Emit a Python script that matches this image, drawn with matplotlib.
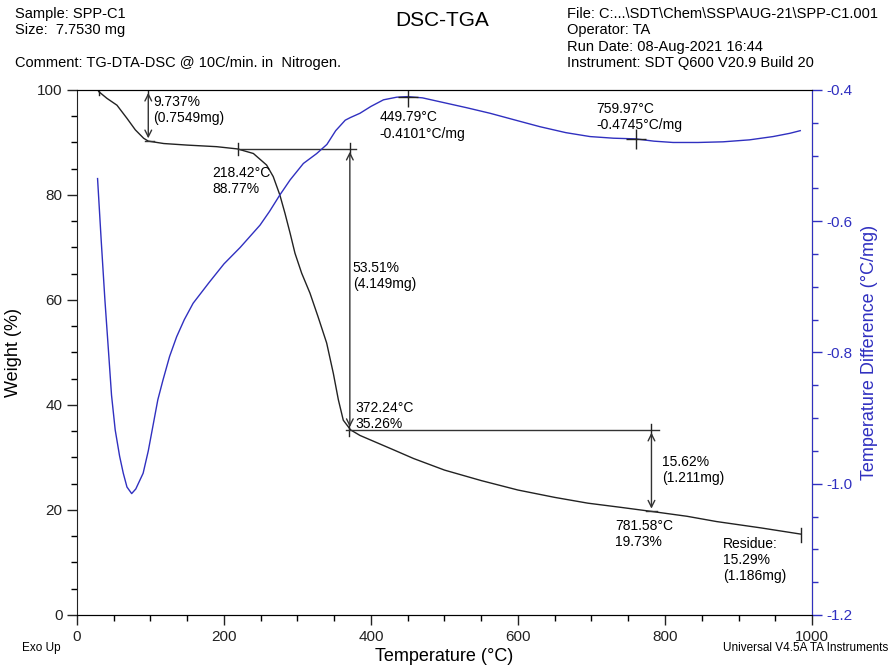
import matplotlib.pyplot as plt
import numpy as np
from matplotlib.ticker import MultipleLocator

plt.rcParams['font.family'] = ['Liberation Sans', 'DejaVu Sans']

# --- DATA ---

# TGA weight curve
tga_temp = [29.5, 40.8, 54.4, 68, 79.4, 90.7, 97, 118, 150, 190, 218.42, 240, 258,
            267, 276, 283, 290, 296.6, 305.7, 317, 328, 339.7, 348.8, 355.6, 362.3,
            372.24, 385, 400, 430, 458, 500, 550, 600, 650, 695, 740, 781.58, 830,
            870, 930, 985]
tga_weight = [99.7, 98.4, 97.1, 94.6, 92.4, 90.8, 90.26, 89.8, 89.5, 89.2, 88.77,
              87.9, 85.7, 83.5, 80.0, 76.5, 72.7, 68.9, 65.1, 61.3, 56.8, 51.8, 46.0,
              41.0, 37.1, 35.26, 34.2, 33.3, 31.5, 29.8, 27.6, 25.6, 23.8, 22.4, 21.3,
              20.5, 19.73, 18.8, 17.8, 16.6, 15.4]

# DSC heat-flow curve
dsc_temp = [28, 33, 38, 43, 47, 52, 58, 63, 68, 74.4, 80, 90, 97, 104, 110, 117, 126,
            135.6, 146, 158, 180, 200, 222, 249, 262, 276, 290, 308, 326, 340, 352,
            365, 372, 385, 400, 417, 435, 449.79, 470, 494, 530, 562, 600, 630, 665,
            698, 730, 759.97, 785, 811, 845, 879, 915, 947, 970, 984]
dsc_val = [-0.535, -0.630, -0.720, -0.800, -0.865, -0.918, -0.958, -0.984, -1.005,
           -1.015, -1.008, -0.984, -0.950, -0.908, -0.872, -0.842, -0.806, -0.776,
           -0.750, -0.725, -0.693, -0.665, -0.640, -0.606, -0.585, -0.560, -0.537,
           -0.512, -0.497, -0.483, -0.462, -0.446, -0.442, -0.4355, -0.425, -0.415,
           -0.411, -0.4101, -0.412, -0.418, -0.427, -0.4355, -0.447, -0.456, -0.465,
           -0.471, -0.4735, -0.4745, -0.478, -0.480, -0.480, -0.479, -0.476, -0.471,
           -0.466, -0.462]

# step analysis: (start T, end T, start %, end %)
step1 = (29.5, 97, 100.0, 90.26)
step2 = (218.42, 372.24, 88.77, 35.26)
step3 = (372.24, 781.58, 35.26, 19.73)
residue_t, residue_w = 985, 15.29

dsc_peaks_t = [449.79, 759.97]
dsc_peaks_v = [-0.4101, -0.4745]

blue = '#3030c0'
grey = '#333333'

fig = plt.figure(figsize=(8.93, 6.65), dpi=100)
ax = fig.add_axes([0.0862, 0.0752, 0.8231, 0.7895])
ax2 = ax.twinx()

ax.plot(tga_temp, tga_weight, color='#222222', lw=1.0)
ax2.plot(dsc_temp, dsc_val, color=blue, lw=1.0)

ax.set_xlim(0, 1000)
ax.set_ylim(0, 100)
ax2.set_ylim(-1.2, -0.4)

ax.xaxis.set_major_locator(MultipleLocator(200))
ax.xaxis.set_minor_locator(MultipleLocator(50))
ax.yaxis.set_major_locator(MultipleLocator(20))
ax.yaxis.set_minor_locator(MultipleLocator(5))
ax2.yaxis.set_major_locator(MultipleLocator(0.2))
ax2.yaxis.set_minor_locator(MultipleLocator(0.05))
ax2.yaxis.set_major_formatter(plt.FuncFormatter(lambda v, p: '%.1f' % v))

for a in (ax, ax2):
    a.tick_params(which='major', direction='out', length=7, width=1, labelsize=11)
    a.tick_params(which='minor', direction='out', length=4, width=1)
ax.tick_params(colors='#222222')
ax2.tick_params(axis='y', which='both', colors=blue)
ax2.spines['right'].set_color(blue)
ax2.spines['left'].set_visible(False)
for s in ('left', 'bottom', 'top'):
    ax.spines[s].set_color('#222222')

ax.set_xlabel('Temperature (°C)', fontsize=13)
ax.set_ylabel('Weight (%)', fontsize=13)
ax2.set_ylabel('Temperature Difference (°C/mg)', fontsize=13, color=blue)

fs = 10
arrow = dict(arrowstyle='<->', color=grey, lw=1.0, mutation_scale=12)


def vtick(a, x, y, h):
    a.plot([x, x], [y - h, y + h], color='#222222', lw=1.0)


# step 1
vtick(ax, step1[0], step1[2], 1.0)
vtick(ax, step1[1], step1[2], 1.0)
ax.plot([step1[1] - 4, step1[1] + 8], [step1[3], step1[3]], color=grey, lw=1.0)
ax.annotate('', xy=(step1[1], step1[3]), xytext=(step1[1], step1[2]), arrowprops=arrow)
ax.text(step1[1] + 7, 99.0, '9.737%\n(0.7549mg)', fontsize=fs, va='top', linespacing=1.2)

# step 2
vtick(ax, step2[0], step2[2], 1.1)
ax.plot([step2[0], step2[1] + 8], [step2[2], step2[2]], color=grey, lw=1.0)
vtick(ax, step2[1] - 1, step2[2], 1.1)
ax.annotate('', xy=(step2[1] - 1, step2[3]), xytext=(step2[1] - 1, step2[2]), arrowprops=arrow)
ax.text(step2[0] - 34, 85.5, '%.2f°C\n%.2f%%' % (step2[0], step2[2]), fontsize=fs,
        va='top', linespacing=1.2)
ax.text(step2[1] + 3, 67.4, '53.51%\n(4.149mg)', fontsize=fs, va='top', linespacing=1.2)

# step 3
vtick(ax, step3[0] - 2, step3[2], 1.1)
ax.plot([step3[0] - 6, step3[1] + 10], [step3[2], step3[2]], color=grey, lw=1.0)
vtick(ax, step3[1], step3[2], 1.1)
ax.annotate('', xy=(step3[1], step3[3]), xytext=(step3[1], step3[2]), arrowprops=arrow)
ax.text(step2[1] + 6, 40.8, '%.2f°C\n%.2f%%' % (step3[0], step3[2]), fontsize=fs,
        va='top', linespacing=1.2)
ax.text(step3[1] + 14, 30.5, '15.62%\n(1.211mg)', fontsize=fs, va='top', linespacing=1.2)
ax.plot([step3[1] - 8, step3[1] + 8], [step3[3], step3[3]], color=grey, lw=1.0)
ax.text(step3[1] - 49, 18.3, '%.2f°C\n%.2f%%' % (step3[1], step3[3]), fontsize=fs,
        va='top', linespacing=1.2)

# residue
vtick(ax, residue_t, residue_w, 1.3)
ax.text(879, 14.9, 'Residue:\n15.29%\n(1.186mg)', fontsize=fs, va='top', linespacing=1.2)

# DSC peaks
for t, v in zip(dsc_peaks_t, dsc_peaks_v):
    ax2.plot([t], [v], marker='+', color='#222222', ms=14, mew=1.0)
ax2.text(412, -0.431, '449.79°C\n-0.4101°C/mg', fontsize=fs, va='top', linespacing=1.2)
ax2.text(707, -0.418, '759.97°C\n-0.4745°C/mg', fontsize=fs, va='top', linespacing=1.2)

# header text
fig.text(15 / 893, 1 - 7 / 665, 'Sample: SPP-C1\nSize:  7.7530 mg', fontsize=10.5,
         va='top', linespacing=1.2)
fig.text(15 / 893, 1 - 56 / 665, 'Comment: TG-DTA-DSC @ 10C/min. in  Nitrogen.',
         fontsize=10.5, va='top')
fig.text(442 / 893, 1 - 21 / 665, 'DSC-TGA', fontsize=15, ha='center', va='center')
fig.text(567 / 893, 1 - 7 / 665,
         'File: C:...\\SDT\\Chem\\SSP\\AUG-21\\SPP-C1.001\nOperator: TA\n'
         'Run Date: 08-Aug-2021 16:44\nInstrument: SDT Q600 V20.9 Build 20',
         fontsize=10.5, va='top', linespacing=1.22)
fig.text(22 / 893, 1 - 648 / 665, 'Exo Up', fontsize=8.5, va='center')
fig.text(888 / 893, 1 - 648 / 665, 'Universal V4.5A TA Instruments', fontsize=8.5,
         ha='right', va='center')

ax.yaxis.set_label_coords(-0.075, 0.5)
ax2.yaxis.set_label_coords(1.067, 0.5)
ax.xaxis.set_label_coords(0.5, -0.062)

fig.savefig('out.png', dpi=100)
